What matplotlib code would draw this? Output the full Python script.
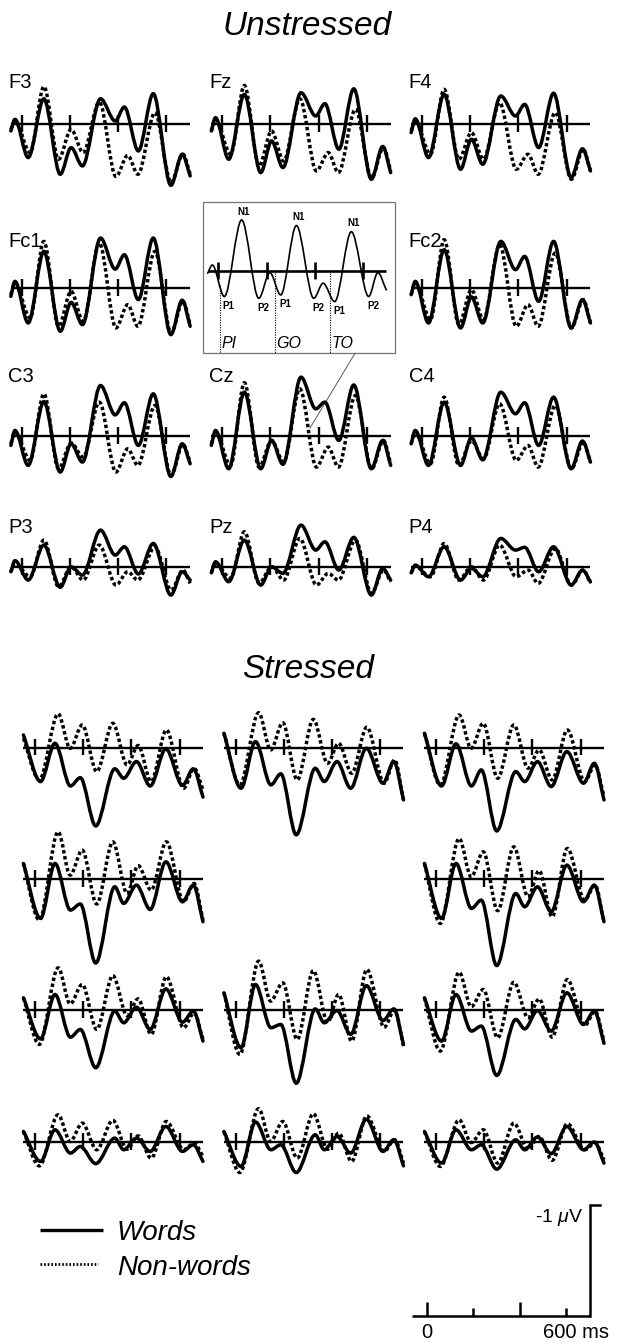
import matplotlib
matplotlib.use("Agg")
import matplotlib.pyplot as plt
from matplotlib.path import Path
from matplotlib.patches import PathPatch, Rectangle

plt.rcParams['font.family'] = ['Liberation Sans', 'DejaVu Sans']
plt.rcParams['mathtext.fontset'] = 'custom'
plt.rcParams['mathtext.rm'] = 'Liberation Sans'
plt.rcParams['mathtext.it'] = 'Liberation Sans:italic'

# ---------------- data (µV, negative plotted up) ----------------
ELECTRODES = [['F3', 'Fz', 'F4'], ['Fc1', None, 'Fc2'], ['C3', 'Cz', 'C4'], ['P3', 'Pz', 'P4']]
TICKS_MS = [0, 200, 400, 600]

# latencies (ms) of successive extrema
T_UNSTR_WORDS = [-45, -28, 27, 92, 160, 205, 252, 327, 388, 426, 484, 546, 619, 666, 699]
T_UNSTR_NONW = [-45, -28, 35, 92, 153, 205, 255, 322, 391, 440, 482, 553, 620, 669, 699]
T_STR_WORDS = [-48, 23, 83, 147, 188, 252, 331, 368, 421, 478, 543, 612, 657, 697]
T_STR_NONW = [-48, 18, 96, 146, 196, 256, 323, 382, 428, 482, 545, 617, 660, 697]

unstressed_words = {
    'F3': [0.06, -0.045, 0.30, -0.23, 0.45, 0.21, 0.375, -0.23, -0.03, -0.156, 0.24, -0.276, 0.55, 0.27, 0.465],
    'Fz': [0.06, -0.06, 0.315, -0.27, 0.435, 0.15, 0.39, -0.285, -0.075, -0.186, 0.225, -0.32, 0.495, 0.20, 0.435],
    'F4': [0.075, -0.05, 0.30, -0.27, 0.405, 0.135, 0.36, -0.255, -0.075, -0.18, 0.21, -0.28, 0.48, 0.22, 0.42],
    'Fc1': [0.075, -0.06, 0.315, -0.33, 0.39, 0.13, 0.33, -0.45, -0.17, -0.30, 0.105, -0.45, 0.42, 0.11, 0.345],
    'Fc2': [0.06, -0.06, 0.315, -0.345, 0.36, 0.08, 0.315, -0.42, -0.165, -0.285, 0.12, -0.42, 0.36, 0.105, 0.315],
    'C3': [0.085, -0.05, 0.265, -0.31, 0.325, 0.07, 0.235, -0.455, -0.19, -0.30, 0.085, -0.38, 0.365, 0.07, 0.25],
    'Cz': [0.085, -0.05, 0.295, -0.395, 0.295, 0.04, 0.255, -0.53, -0.245, -0.305, 0.04, -0.46, 0.295, 0.04, 0.265],
    'C4': [0.07, -0.05, 0.265, -0.305, 0.265, 0.015, 0.215, -0.395, -0.20, -0.30, 0.085, -0.35, 0.295, 0.045, 0.235],
    'P3': [0.04, -0.06, 0.115, -0.20, 0.18, -0.005, 0.07, -0.335, -0.11, -0.185, 0.06, -0.215, 0.25, 0.04, 0.115],
    'Pz': [0.05, -0.05, 0.13, -0.245, 0.16, -0.005, 0.055, -0.38, -0.155, -0.23, 0.025, -0.27, 0.25, 0.01, 0.115],
    'P4': [0.05, -0.02, 0.085, -0.185, 0.115, 0.01, 0.085, -0.26, -0.155, -0.18, 0.04, -0.185, 0.16, 0.025, 0.13],
}
unstressed_nonwords = {
    'F3': [0.045, -0.03, 0.255, -0.34, 0.315, 0.045, 0.255, -0.20, 0.47, 0.28, 0.45, -0.105, 0.525, 0.27, 0.45],
    'Fz': [0.06, -0.045, 0.27, -0.35, 0.375, 0.06, 0.33, -0.23, 0.42, 0.255, 0.435, -0.135, 0.48, 0.21, 0.42],
    'F4': [0.06, -0.03, 0.27, -0.315, 0.315, 0.075, 0.315, -0.195, 0.405, 0.27, 0.45, -0.105, 0.495, 0.225, 0.42],
    'Fc1': [0.06, -0.045, 0.27, -0.42, 0.345, 0.03, 0.30, -0.405, 0.36, 0.15, 0.345, -0.33, 0.405, 0.12, 0.33],
    'Fc2': [0.06, -0.045, 0.285, -0.435, 0.33, 0.015, 0.285, -0.39, 0.345, 0.15, 0.345, -0.315, 0.36, 0.105, 0.315],
    'C3': [0.07, -0.035, 0.22, -0.38, 0.295, 0.063, 0.19, -0.305, 0.325, 0.115, 0.265, -0.275, 0.355, 0.075, 0.235],
    'Cz': [0.07, -0.035, 0.265, -0.48, 0.28, 0.04, 0.235, -0.425, 0.28, 0.10, 0.28, -0.365, 0.295, 0.04, 0.25],
    'C4': [0.07, -0.035, 0.25, -0.35, 0.265, 0.04, 0.205, -0.29, 0.22, 0.085, 0.28, -0.275, 0.295, 0.055, 0.235],
    'P3': [0.04, -0.035, 0.085, -0.245, 0.175, -0.005, 0.115, -0.20, 0.16, 0.04, 0.115, -0.185, 0.205, 0.025, 0.145],
    'Pz': [0.05, -0.035, 0.10, -0.32, 0.145, -0.005, 0.115, -0.26, 0.16, 0.055, 0.115, -0.245, 0.235, 0.025, 0.13],
    'P4': [0.05, -0.01, 0.085, -0.215, 0.115, -0.005, 0.115, -0.20, 0.085, 0.025, 0.145, -0.17, 0.16, 0.025, 0.145],
}
stressed_words = {
    'F3': [-0.115, 0.305, -0.04, 0.345, 0.27, 0.705, 0.19, 0.275, 0.125, 0.345, 0.01, 0.34, 0.19, 0.445],
    'Fz': [-0.13, 0.365, -0.055, 0.335, 0.235, 0.785, 0.185, 0.305, 0.125, 0.365, 0.005, 0.32, 0.125, 0.47],
    'F4': [-0.13, 0.345, -0.035, 0.345, 0.20, 0.75, 0.215, 0.305, 0.125, 0.35, 0.035, 0.32, 0.14, 0.47],
    'Fc1': [-0.14, 0.355, -0.14, 0.28, 0.225, 0.757, 0.07, 0.22, 0.055, 0.275, -0.155, 0.205, 0.055, 0.385],
    'Fc2': [-0.14, 0.355, -0.14, 0.265, 0.19, 0.78, 0.13, 0.25, 0.07, 0.295, -0.125, 0.205, 0.055, 0.385],
    'C3': [-0.11, 0.26, -0.14, 0.245, 0.175, 0.52, 0.01, 0.115, -0.025, 0.175, -0.19, 0.11, 0.01, 0.28],
    'Cz': [-0.155, 0.34, -0.23, 0.16, 0.13, 0.66, -0.01, 0.115, 0.005, 0.22, -0.22, 0.095, -0.01, 0.31],
    'C4': [-0.11, 0.28, -0.14, 0.19, 0.145, 0.59, 0.085, 0.17, 0.005, 0.19, -0.155, 0.13, 0.01, 0.30],
    'P3': [-0.095, 0.175, -0.11, 0.10, 0.04, 0.195, -0.035, 0.07, -0.035, 0.085, -0.14, 0.085, 0.025, 0.175],
    'Pz': [-0.095, 0.22, -0.18, 0.07, 0.025, 0.275, -0.065, 0.07, -0.05, 0.10, -0.205, 0.085, -0.02, 0.215],
    'P4': [-0.095, 0.19, -0.11, 0.07, 0.025, 0.245, -0.02, 0.07, -0.045, 0.105, -0.14, 0.07, 0.0, 0.19],
}
stressed_nonwords = {
    'F3': [-0.085, 0.29, -0.305, 0.006, -0.205, 0.215, -0.22, 0.155, -0.02, 0.305, -0.16, 0.365, 0.185, 0.38],
    'Fz': [-0.13, 0.335, -0.315, 0.02, -0.225, 0.29, -0.255, 0.14, -0.04, 0.23, -0.185, 0.32, 0.11, 0.47],
    'F4': [-0.13, 0.335, -0.295, 0.005, -0.22, 0.275, -0.205, 0.185, 0.02, 0.29, -0.16, 0.305, 0.155, 0.44],
    'Fc1': [-0.14, 0.37, -0.425, -0.035, -0.26, 0.225, -0.335, 0.13, -0.12, 0.10, -0.335, 0.205, 0.04, 0.37],
    'Fc2': [-0.14, 0.40, -0.365, -0.02, -0.245, 0.285, -0.29, 0.16, -0.075, 0.34, -0.275, 0.19, 0.055, 0.385],
    'C3': [-0.11, 0.31, -0.38, -0.055, -0.23, 0.175, -0.31, 0.05, -0.10, 0.22, -0.30, 0.16, 0.025, 0.265],
    'Cz': [-0.155, 0.40, -0.44, -0.08, -0.245, 0.265, -0.355, 0.11, -0.14, 0.28, -0.365, 0.155, 0.0, 0.325],
    'C4': [-0.11, 0.37, -0.34, -0.03, -0.185, 0.25, -0.25, 0.07, -0.10, 0.245, -0.275, 0.14, 0.01, 0.28],
    'P3': [-0.095, 0.215, -0.245, -0.005, -0.17, 0.07, -0.195, 0.065, -0.055, 0.145, -0.185, 0.07, 0.01, 0.13],
    'Pz': [-0.095, 0.275, -0.30, -0.005, -0.185, 0.145, -0.255, 0.065, -0.08, 0.175, -0.235, 0.085, -0.02, 0.19],
    'P4': [-0.095, 0.22, -0.20, 0.005, -0.11, 0.19, -0.17, 0.065, -0.05, 0.165, -0.165, 0.07, 0.01, 0.16],
}

# schematic inset (PI-GO-TO)
T_INSET = [-44, -25, 25, 97, 168, 214, 259, 324, 396, 435, 483, 552, 624, 662, 697]
V_INSET = [0.02, -0.054, 0.23, -0.46, 0.246, 0.015, 0.216, -0.41, 0.246, 0.11, 0.276, -0.354, 0.23, 0.015, 0.17]
INSET_PEAK_LABELS = [('N1', 97), ('N1', 324), ('N1', 552)]
INSET_TROUGH_LABELS = [('P1', 25), ('P2', 168), ('P1', 259), ('P2', 396), ('P1', 483), ('P2', 624)]
SYLLABLES = [('PI', 7), ('GO', 235), ('TO', 465)]

# ---------------- layout (pixels) ----------------
W, H = 617, 1343
PX_MS = 0.241
PX_UV = 111.0
UNSTR_X0 = [21.7, 222.2, 422.0]
UNSTR_BASE = [124.3, 288.0, 436.0, 567.3]
STR_X0 = [35.0, 235.5, 436.0]
STR_BASE = [747.7, 879.0, 1010.0, 1142.0]
LABEL_X = [8.3, 209.5, 408.8]
LABEL_Y = [88.3, 247.0, 382.0, 533.0]

fig = plt.figure(figsize=(W / 100, H / 100), dpi=100)
ov = fig.add_axes([0, 0, 1, 1])
ov.set_xlim(0, W)
ov.set_ylim(H, 0)
ov.axis('off')


def make_axes(x0, base, t0, t1, px_ms=PX_MS, yr=1.0):
    left = x0 + t0 * px_ms
    width = (t1 - t0) * px_ms
    top = base - yr * PX_UV
    height = 2 * yr * PX_UV
    ax = fig.add_axes([left / W, 1 - (top + height) / H, width / W, height / H])
    ax.set_xlim(t0, t1)
    ax.set_ylim(yr, -yr)
    ax.axis('off')
    ax.patch.set_alpha(0)
    return ax


def curve_path(t, v):
    verts = [(t[0], v[0])]
    codes = [Path.MOVETO]
    n = len(t)
    for i in range(n - 1):
        dt = t[i + 1] - t[i]
        dv = v[i + 1] - v[i]
        s0 = dv / 3 if i == 0 else 0.0
        s1 = dv / 3 if i == n - 2 else 0.0
        verts += [(t[i] + dt / 3, v[i] + s0), (t[i + 1] - dt / 3, v[i + 1] - s1), (t[i + 1], v[i + 1])]
        codes += [Path.CURVE4] * 3
    return Path(verts, codes)


def draw_curve(ax, t, v, dotted=False, lw=2.5):
    ls = (0, (1.0, 0.75)) if dotted else '-'
    patch = PathPatch(curve_path(t, v), fill=False, lw=lw, ec='black', linestyle=ls,
                      capstyle='butt' if dotted else 'round', joinstyle='round',
                      transform=ax.transData, clip_on=False)
    ax.add_patch(patch)


def draw_baseline(ax, t0, t1, lw=1.7):
    ax.plot([t0, t1], [0, 0], color='black', lw=lw, solid_capstyle='butt', clip_on=False)
    ax.vlines(TICKS_MS, -0.08, 0.07, color='black', lw=lw, clip_on=False)


# ---------------- titles ----------------
ov.text(307, 35, 'Unstressed', ha='center', va='baseline', fontsize=24, style='italic')
ov.text(308, 678, 'Stressed', ha='center', va='baseline', fontsize=24, style='italic')

# ---------------- unstressed panels ----------------
for r, row in enumerate(ELECTRODES):
    for c, el in enumerate(row):
        if el is None:
            continue
        ax = make_axes(UNSTR_X0[c], UNSTR_BASE[r], -48, 702)
        draw_baseline(ax, T_UNSTR_WORDS[0], T_UNSTR_WORDS[-1])
        draw_curve(ax, T_UNSTR_NONW, unstressed_nonwords[el], dotted=True)
        draw_curve(ax, T_UNSTR_WORDS, unstressed_words[el])
        ov.text(LABEL_X[c], LABEL_Y[r], el, ha='left', va='baseline', fontsize=14.5)

# ---------------- stressed panels ----------------
for r, row in enumerate(ELECTRODES):
    for c, el in enumerate(row):
        if el is None:
            continue
        ax = make_axes(STR_X0[c], STR_BASE[r], -52, 700)
        draw_baseline(ax, T_STR_WORDS[0], T_STR_WORDS[-1])
        draw_curve(ax, T_STR_NONW, stressed_nonwords[el], dotted=True)
        draw_curve(ax, T_STR_WORDS, stressed_words[el])

# ---------------- inset ----------------
ov.add_patch(Rectangle((202.5, 201.7), 192.5, 151.6, fill=False, ec='0.45', lw=0.9))
ov.plot([355, 310], [353.3, 428], color='0.35', lw=0.7)
iax = make_axes(218.3, 271.0, -50, 705, yr=0.75)
draw_baseline(iax, T_INSET[0], T_INSET[-1], lw=1.9)
draw_curve(iax, T_INSET, V_INSET, lw=1.2)
for lab, tt in INSET_PEAK_LABELS:
    vv = V_INSET[T_INSET.index(tt)]
    iax.text(tt + 8, vv - 0.03, lab, ha='center', va='bottom', fontsize=7, fontweight='bold')
for lab, tt in INSET_TROUGH_LABELS:
    vv = V_INSET[T_INSET.index(tt)]
    iax.text(tt + 18, vv + 0.04, lab, ha='center', va='top', fontsize=7, fontweight='bold')
for k, (syl, tt) in enumerate(SYLLABLES):
    ytop = 0.13 if k == 0 else 0.02
    iax.plot([tt, tt], [ytop, 0.74], color='black', lw=0.8, linestyle=(0, (1, 1.2)))
    iax.text(tt + 6, 0.695, syl, ha='left', va='baseline', fontsize=11.5, style='italic')

# ---------------- legend ----------------
ov.plot([40, 103], [1230, 1230], color='black', lw=2.4, solid_capstyle='butt')
ov.plot([40, 98], [1264, 1264], color='black', lw=2.0, linestyle=(0, (0.6, 0.7)))
ov.text(117, 1240, 'Words', ha='left', va='baseline', fontsize=20, style='italic')
ov.text(117, 1275, 'Non-words', ha='left', va='baseline', fontsize=20, style='italic')

# ---------------- scale bar ----------------
SB_PX_MS = 0.2317
sax = make_axes(427.0, 1316.0, -80, 760, px_ms=SB_PX_MS, yr=1.15)
sax.plot([-65, 703], [0, 0], color='black', lw=1.8, solid_capstyle='butt', clip_on=False)
sax.vlines([0, 400], -0.126, 0, color='black', lw=1.8, clip_on=False)
sax.vlines([200, 600], -0.072, 0, color='black', lw=1.8, clip_on=False)
sax.plot([703, 703, 746], [0, -1, -1], color='black', lw=1.8, solid_joinstyle='miter', clip_on=False)
ov.text(427, 1338, '0', ha='center', va='baseline', fontsize=14.5)
ov.text(543, 1338, '600 ms', ha='left', va='baseline', fontsize=14.5)
ov.text(583, 1221.7, r'-1 $\mathit{\mu}$V', ha='right', va='baseline', fontsize=14)

fig.savefig('out.png', dpi=100)
